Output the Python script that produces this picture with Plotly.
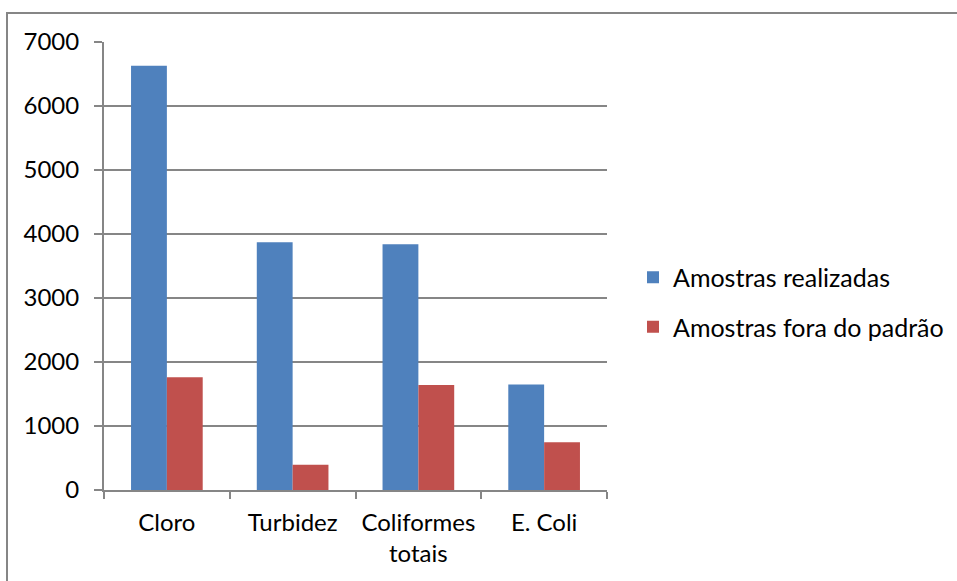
import plotly.graph_objects as go

categories = ["Cloro", "Turbidez", "Coliformes<br>totais", "E. Coli"]
realizadas = [6630, 3870, 3840, 1650]
fora_padrao = [1760, 395, 1640, 745]
series_names = ["Amostras realizadas", "Amostras fora do padrão"]
y_ticks = [0, 1000, 2000, 3000, 4000, 5000, 6000, 7000]

BLUE = "#4F81BD"
RED = "#C0504D"
GRAY = "#868686"
FONT = "Lato"
FS = 24

fig = go.Figure()
fig.add_trace(go.Bar(x=categories, y=realizadas, name=series_names[0],
                     marker=dict(color=BLUE, line=dict(width=0)), legendgroup="a"))
fig.add_trace(go.Bar(x=categories, y=fora_padrao, name=series_names[1],
                     marker=dict(color=RED, line=dict(width=0)), legendgroup="b"))

W, H = 957, 581
L, R, T, B = 104, 350, 42, 91

pw = W - L - R
ph = H - T - B
def px_to_x(px):
    return (px - L) / pw
def py_to_y(py):
    return (H - B - py) / ph

fig.update_layout(
    width=W, height=H,
    margin=dict(l=L, r=R, t=T, b=B, autoexpand=False),
    paper_bgcolor="white", plot_bgcolor="white",
    barmode="group", bargap=0.43, bargroupgap=0,
    font=dict(family=FONT, size=FS, color="black"),
    showlegend=True,
    legend=dict(x=px_to_x(633), y=py_to_y(302), xanchor="left", yanchor="middle",
                traceorder="grouped", tracegroupgap=14,
                font=dict(family=FONT, size=25, color="black"),
                itemsizing="constant", bgcolor="rgba(0,0,0,0)"),
    xaxis=dict(showline=True, linecolor=GRAY, linewidth=2,
               ticks="outside", tickson="boundaries", ticklen=7, tickcolor=GRAY, tickwidth=2,
               showgrid=False, ticklabelstandoff=10,
               tickfont=dict(family=FONT, size=FS, color="black")),
    yaxis=dict(range=[0, 7000], tickvals=y_ticks, showline=True, linecolor=GRAY, linewidth=2,
               ticks="outside", ticklen=8, tickcolor=GRAY, tickwidth=2,
               showgrid=True, gridcolor=GRAY, gridwidth=2, zeroline=False,
               ticklabelstandoff=10,
               tickfont=dict(family=FONT, size=FS, color="black")),
)

# outer chart border (top and left edges visible)
fig.add_shape(type="line", xref="paper", yref="paper",
              x0=px_to_x(6), x1=px_to_x(W), y0=py_to_y(13), y1=py_to_y(13),
              line=dict(color=GRAY, width=2), layer="above")
fig.add_shape(type="line", xref="paper", yref="paper",
              x0=px_to_x(7), x1=px_to_x(7), y0=py_to_y(13), y1=py_to_y(H),
              line=dict(color=GRAY, width=2), layer="above")

fig.write_html("out.html", config={"displayModeBar": False})

# remove default page margin so the figure sits at the window's origin
with open("out.html", "r", encoding="utf-8") as f:
    html = f.read()
html = html.replace("<head>", "<head><style>html,body{margin:0;padding:0;overflow:hidden}</style>", 1)
with open("out.html", "w", encoding="utf-8") as f:
    f.write(html)
